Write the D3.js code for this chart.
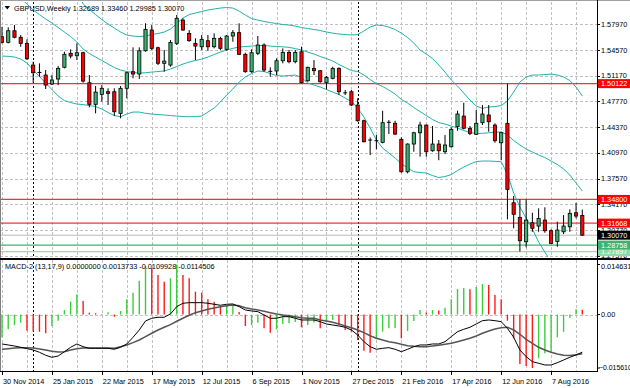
<!DOCTYPE html>
<html>
<head>
<meta charset="utf-8">
<script src="https://cdn.jsdelivr.net/npm/d3@7"></script>
<style>
  body { margin: 0; background: #fff; }
  svg text { font-family: "Liberation Sans", Arial, sans-serif; font-size: 7.3px; }
</style>
</head>
<body>
<svg id="chart" width="630" height="388"></svg>
<script>
// weekly GBPUSD bars, first week 30 Nov 2014
const firstWeek = "2014-11-30";
const open = [
  1.5632, 1.5558, 1.5712, 1.5625, 1.5545, 1.5258, 1.5160, 1.5126, 1.5007, 1.5073,
  1.5228, 1.5413, 1.5381, 1.5421, 1.5024, 1.4738, 1.4870, 1.4905, 1.4905, 1.4619,
  1.4950, 1.5170, 1.5139, 1.5447, 1.5721, 1.5487, 1.5281, 1.5258, 1.5545, 1.5853,
  1.5677, 1.5545, 1.5500, 1.5580, 1.5500, 1.5611, 1.5466, 1.5642, 1.5686, 1.5400,
  1.5170, 1.5413, 1.5523, 1.5170, 1.5179, 1.5315, 1.5426, 1.5302, 1.5434, 1.5050,
  1.5214, 1.5183, 1.5024, 1.5082, 1.5214, 1.4897, 1.4905, 1.4729, 1.4521, 1.4262,
  1.4262, 1.4235, 1.4495, 1.4487, 1.4275, 1.3846, 1.4213, 1.4362, 1.4464, 1.4124,
  1.4213, 1.4111, 1.4177, 1.4442, 1.4583, 1.4421, 1.4341, 1.4495, 1.4597, 1.4464,
  1.4230, 1.4487, 1.3436, 1.3243, 1.2920, 1.3172, 1.3128, 1.3207, 1.3066, 1.2925,
  1.3052, 1.3118, 1.3304, 1.32689
];
const high = [
  1.5765, 1.5757, 1.5787, 1.5655, 1.5598, 1.5302, 1.5280, 1.5192, 1.5126, 1.5245,
  1.5434, 1.5466, 1.5545, 1.5434, 1.5126, 1.4980, 1.4993, 1.4950, 1.4950, 1.4980,
  1.5170, 1.5492, 1.5492, 1.5810, 1.5787, 1.5500, 1.5457, 1.5589, 1.5920, 1.5876,
  1.5721, 1.5611, 1.5655, 1.5655, 1.5677, 1.5632, 1.5655, 1.5721, 1.5810, 1.5421,
  1.5466, 1.5642, 1.5545, 1.5228, 1.5347, 1.5479, 1.5457, 1.5457, 1.5500, 1.5236,
  1.5324, 1.5192, 1.5113, 1.5236, 1.5228, 1.4927, 1.4927, 1.4817, 1.4535, 1.4300,
  1.4332, 1.4653, 1.4530, 1.4521, 1.4301, 1.4222, 1.4375, 1.4508, 1.4470, 1.4451,
  1.4266, 1.4332, 1.4434, 1.4653, 1.4759, 1.4451, 1.4663, 1.4729, 1.4729, 1.4487,
  1.4375, 1.50122, 1.3525, 1.3480, 1.3480, 1.3304, 1.3362, 1.3376, 1.3084, 1.3185,
  1.3273, 1.3349, 1.3436, 1.33460
];
const low = [
  1.5545, 1.5545, 1.5611, 1.5500, 1.5324, 1.5024, 1.5103, 1.4941, 1.4993, 1.4993,
  1.5214, 1.5347, 1.5324, 1.5024, 1.4698, 1.4619, 1.4773, 1.4729, 1.4583, 1.4553,
  1.4817, 1.5082, 1.5073, 1.5434, 1.5457, 1.5258, 1.5170, 1.5236, 1.5523, 1.5712,
  1.5566, 1.5324, 1.5457, 1.5447, 1.5479, 1.5457, 1.5447, 1.5566, 1.5390, 1.5156,
  1.5156, 1.5390, 1.5170, 1.5103, 1.5126, 1.5281, 1.5281, 1.5281, 1.5016, 1.5037,
  1.5126, 1.5024, 1.4937, 1.5069, 1.4861, 1.4861, 1.4716, 1.4508, 1.4236, 1.4067,
  1.4143, 1.4222, 1.4345, 1.4332, 1.3833, 1.3825, 1.4111, 1.4045, 1.4045, 1.4111,
  1.3999, 1.4081, 1.4169, 1.4389, 1.4407, 1.4332, 1.4332, 1.4464, 1.4376, 1.4230,
  1.3999, 1.3216, 1.3098, 1.2790, 1.2846, 1.3052, 1.3052, 1.3039, 1.2890, 1.2854,
  1.3022, 1.3052, 1.3230, 1.29985
];
const close = [
  1.5558, 1.5712, 1.5625, 1.5545, 1.5341, 1.5156, 1.5160, 1.4993, 1.5060, 1.5214,
  1.5400, 1.5377, 1.5421, 1.5046, 1.4738, 1.4900, 1.4950, 1.4884, 1.4640, 1.4950,
  1.5156, 1.5139, 1.5447, 1.5730, 1.5479, 1.5281, 1.5310, 1.5558, 1.5876, 1.5721,
  1.5580, 1.5509, 1.5598, 1.5500, 1.5611, 1.5479, 1.5642, 1.5686, 1.5400, 1.5170,
  1.5421, 1.5523, 1.5192, 1.5175, 1.5315, 1.5426, 1.5302, 1.5426, 1.5024, 1.5228,
  1.5183, 1.5037, 1.5095, 1.5214, 1.4905, 1.4890, 1.4729, 1.4521, 1.4243, 1.4266,
  1.4257, 1.4495, 1.4500, 1.4345, 1.3846, 1.4213, 1.4362, 1.4464, 1.4111, 1.4213,
  1.4124, 1.4200, 1.4407, 1.4610, 1.4421, 1.4354, 1.4487, 1.4610, 1.4508, 1.4257,
  1.4362, 1.3613, 1.3283, 1.2934, 1.3207, 1.3098, 1.3229, 1.3066, 1.2899, 1.3075,
  1.3128, 1.3296, 1.3260, 1.30070
];

// Bollinger bands (20, 2)
const bbUpper = [
  1.7309, 1.7193, 1.7084, 1.6951, 1.6845, 1.6780, 1.6746, 1.6714, 1.6694, 1.6660,
  1.6602, 1.6450, 1.6250, 1.6065, 1.5992, 1.5926, 1.5860, 1.5800, 1.5748, 1.5695,
  1.5655, 1.5642, 1.5635, 1.5642, 1.5662, 1.5675, 1.5695, 1.5734, 1.5807, 1.5880,
  1.5926, 1.5946, 1.5966, 1.5986, 1.5999, 1.6012, 1.6019, 1.6012, 1.5972, 1.5920,
  1.5873, 1.5853, 1.5834, 1.5820, 1.5807, 1.5794, 1.5787, 1.5774, 1.5754, 1.5741,
  1.5728, 1.5715, 1.5695, 1.5681, 1.5668, 1.5662, 1.5655, 1.5662, 1.5708, 1.5761,
  1.5787, 1.5781, 1.5761, 1.5728, 1.5681, 1.5622, 1.5549, 1.5457, 1.5404, 1.5344,
  1.5258, 1.5165, 1.5060, 1.4980, 1.4888, 1.4795, 1.4716, 1.4685, 1.4702, 1.4709,
  1.4722, 1.4782, 1.4901, 1.5033, 1.5099, 1.5126, 1.5126, 1.5132, 1.5139, 1.5126,
  1.5099, 1.5053, 1.4967, 1.4848
];
const bbMiddle = [
  1.6343, 1.6283, 1.6224, 1.6144, 1.6065, 1.5986, 1.5926, 1.5867, 1.5814, 1.5754,
  1.5695, 1.5635, 1.5562, 1.5470, 1.5410, 1.5364, 1.5318, 1.5271, 1.5225, 1.5192,
  1.5172, 1.5159, 1.5152, 1.5156, 1.5165, 1.5172, 1.5179, 1.5205, 1.5238, 1.5271,
  1.5298, 1.5318, 1.5337, 1.5364, 1.5397, 1.5430, 1.5457, 1.5479, 1.5496, 1.5503,
  1.5509, 1.5516, 1.5516, 1.5509, 1.5503, 1.5499, 1.5492, 1.5476, 1.5457, 1.5430,
  1.5404, 1.5371, 1.5344, 1.5311, 1.5265, 1.5225, 1.5185, 1.5172, 1.5126, 1.5066,
  1.5013, 1.4974, 1.4927, 1.4874, 1.4802, 1.4755, 1.4696, 1.4643, 1.4590, 1.4537,
  1.4497, 1.4477, 1.4451, 1.4425, 1.4392, 1.4365, 1.4352, 1.4354, 1.4362, 1.4368,
  1.4374, 1.4332, 1.4259, 1.4200, 1.4147, 1.4107, 1.4067, 1.4034, 1.3988, 1.3942,
  1.3882, 1.3803, 1.3697, 1.3591
];
const bbLower = [
  1.5377, 1.5373, 1.5364, 1.5337, 1.5285, 1.5192, 1.5106, 1.5020, 1.4934, 1.4848,
  1.4788, 1.4762, 1.4742, 1.4735, 1.4722, 1.4709, 1.4676, 1.4630, 1.4590, 1.4574,
  1.4610, 1.4636, 1.4636, 1.4619, 1.4610, 1.4603, 1.4597, 1.4590, 1.4583, 1.4577,
  1.4574, 1.4577, 1.4583, 1.4636, 1.4689, 1.4769, 1.4861, 1.4941, 1.5033, 1.5099,
  1.5146, 1.5179, 1.5172, 1.5146, 1.5119, 1.5113, 1.5119, 1.5126, 1.5093, 1.5020,
  1.4993, 1.4967, 1.4934, 1.4901, 1.4868, 1.4821, 1.4775, 1.4689, 1.4570, 1.4425,
  1.4266, 1.4160, 1.4094, 1.4028, 1.3955, 1.3895, 1.3846, 1.3836, 1.3829, 1.3796,
  1.3770, 1.3783, 1.3809, 1.3862, 1.3909, 1.3948, 1.3981, 1.3988, 1.3988, 1.3984,
  1.3979, 1.3816, 1.3565, 1.3379, 1.3234, 1.3088, 1.2916, 1.2784, 1.2652, 1.2519,
  1.2414, 1.2321, 1.2242, 1.2176
];

// MACD-2 (13,17,9)
const macdMain = [
  -0.00859, -0.00888, -0.00918, -0.00956, -0.00996, -0.01034, -0.01102, -0.01189, -0.01248, -0.01210,
  -0.01084, -0.00956, -0.00859, -0.00938, -0.00985, -0.00985, -0.00985, -0.00985, -0.01014, -0.00956,
  -0.00859, -0.00663, -0.00450, -0.00187, -0.00108, -0.00079, -0.00079, 0.00018, 0.00231, 0.00330,
  0.00348, 0.00348, 0.00348, 0.00330, 0.00301, 0.00272, 0.00301, 0.00310, 0.00231, 0.00134,
  0.00105, 0.00085, -0.00012, -0.00108, -0.00108, -0.00061, -0.00061, -0.00108, -0.00158, -0.00158,
  -0.00158, -0.00207, -0.00275, -0.00304, -0.00333, -0.00371, -0.00450, -0.00596, -0.00792, -0.00938,
  -0.01014, -0.00985, -0.00967, -0.01014, -0.01084, -0.01014, -0.00938, -0.00888, -0.00888, -0.00859,
  -0.00859, -0.00792, -0.00646, -0.00500, -0.00430, -0.00371, -0.00275, -0.00178, -0.00158, -0.00178,
  -0.00207, -0.00400, -0.00663, -0.01034, -0.01230, -0.01376, -0.01423, -0.01473, -0.01473, -0.01406,
  -0.01327, -0.01248, -0.01180, -0.0109928
];
const macdSignal = [
  -0.01014, -0.00996, -0.00976, -0.00967, -0.00967, -0.00976, -0.01005, -0.01034, -0.01072, -0.01093,
  -0.01084, -0.01034, -0.00996, -0.00976, -0.00976, -0.00976, -0.00976, -0.00976, -0.00985, -0.00938,
  -0.00888, -0.00821, -0.00742, -0.00646, -0.00546, -0.00450, -0.00371, -0.00295, -0.00196, -0.00108,
  -0.00020, 0.00056, 0.00105, 0.00155, 0.00193, 0.00231, 0.00260, 0.00281, 0.00260, 0.00202,
  0.00164, 0.00134, 0.00096, 0.00056, 0.00018, -0.00012, -0.00032, -0.00061, -0.00091, -0.00108,
  -0.00108, -0.00158, -0.00187, -0.00225, -0.00275, -0.00333, -0.00383, -0.00450, -0.00529, -0.00617,
  -0.00693, -0.00742, -0.00792, -0.00821, -0.00868, -0.00909, -0.00926, -0.00938, -0.00938, -0.00918,
  -0.00897, -0.00868, -0.00839, -0.00792, -0.00742, -0.00693, -0.00625, -0.00546, -0.00479, -0.00421,
  -0.00383, -0.00371, -0.00450, -0.00576, -0.00722, -0.00839, -0.00956, -0.01034, -0.01102, -0.01151,
  -0.01189, -0.01195, -0.01175, -0.0114506
];
const macdHist = [
  -0.00663, -0.00430, -0.00304, -0.00237, -0.00470, -0.00485, -0.00503, -0.00546, -0.00333, -0.00178,
  0.00134, 0.00377, 0.00593, 0.00397, 0.00056, 0.00041, 0.00018, 0.00067, -0.00061, 0.00105,
  0.00447, 0.00640, 0.00991, 0.01420, 0.01362, 0.01157, 0.00961, 0.01061, 0.014631, 0.01157,
  0.01061, 0.00669, 0.00640, 0.00447, 0.00377, 0.00237, 0.00251, 0.00266, 0.00076, -0.00333,
  -0.00304, -0.00237, -0.00400, -0.00529, -0.00430, -0.00275, -0.00254, -0.00216, -0.00371, -0.00304,
  -0.00231, -0.00400, -0.00178, -0.00158, -0.00304, -0.00450, -0.00500, -0.00742, -0.01055, -0.01113,
  -0.00722, -0.00500, -0.00400, -0.00392, -0.00693, -0.00479, -0.00187, 0.00134, 0.00056, 0.00134,
  0.00120, 0.00202, 0.00447, 0.00748, 0.00777, 0.00739, 0.00806, 0.00894, 0.00865, 0.00573,
  0.00447, -0.00178, -0.00693, -0.01443, -0.01502, -0.01561, -0.01277, -0.01131, -0.01084, -0.00663,
  -0.00500, -0.00091, 0.00155, 0.0013733
];

// axis ticks and horizontal levels
const priceTicks = [1.57970, 1.54570, 1.51170, 1.47770, 1.44370, 1.40970, 1.37570, 1.34170, 1.30770, 1.27370];
const dateTicks = ["2014-11-30", "2015-01-25", "2015-03-22", "2015-05-17", "2015-07-12", "2015-09-06",
                   "2015-11-01", "2015-12-27", "2016-02-21", "2016-04-17", "2016-06-12", "2016-08-07"];
const yearStarts = ["2015-01-04", "2016-01-03"];
const resistance = [1.50122, 1.34800, 1.31668];
const support = [1.28758, 1.27897];
const bid = 1.30070;
const macdTicks = [0.014631, 0, -0.015610];

const svg = d3.select("#chart");
const W = 630, plotRight = 597;
const mainTop = 2, mainBottom = 257, subTop = 260, subBottom = 371;

const parse = d3.utcParse("%Y-%m-%d");
const weeks = close.map((d, i) => d3.utcDay.offset(parse(firstWeek), 7 * i));

var x = d3.scaleUtc().domain(d3.extent(weeks)).range([2, 582.3]);
var y = d3.scaleLinear().domain([1.2737, 1.5797]).range([255.6, 24.3]);
var ym = d3.scaleLinear().domain([-0.015610, 0.014631]).range([368, 264.5]);

svg.append("rect").attr("width", W).attr("height", 388).attr("fill", "#fff");

var defs = svg.append("defs");
defs.append("clipPath").attr("id", "clipMain").append("rect")
  .attr("x", 0).attr("y", mainTop).attr("width", plotRight).attr("height", mainBottom - mainTop);
defs.append("clipPath").attr("id", "clipSub").append("rect")
  .attr("x", 0).attr("y", subTop).attr("width", plotRight).attr("height", subBottom - subTop);

//grid
var grid = svg.append("g").attr("stroke", "#c0c0c0").attr("stroke-dasharray", "3,2")
  .attr("shape-rendering", "crispEdges");
grid.selectAll(".hg").data(priceTicks).enter().append("line")
  .attr("x1", 0).attr("x2", plotRight)
  .attr("y1", d => Math.round(y(d)) + 0.5).attr("y2", d => Math.round(y(d)) + 0.5);
var gridWeeks = weeks.filter((d, i) => i % 4 === 0);
[[mainTop, mainBottom], [subTop, subBottom]].forEach(function (r) {
  grid.selectAll(null).data(gridWeeks).enter().append("line")
    .attr("x1", d => Math.round(x(d)) + 0.5).attr("x2", d => Math.round(x(d)) + 0.5)
    .attr("y1", r[0]).attr("y2", r[1]);
});
grid.append("line").attr("x1", 0).attr("x2", plotRight)
  .attr("y1", Math.round(ym(0)) + 0.5).attr("y2", Math.round(ym(0)) + 0.5);

// period separators
svg.append("g").selectAll("line").data(yearStarts.map(parse)).enter().append("line")
  .attr("x1", d => Math.round(x(d)) + 0.5).attr("x2", d => Math.round(x(d)) + 0.5)
  .attr("y1", mainTop).attr("y2", subBottom)
  .attr("stroke", "#000").attr("stroke-dasharray", "2,2").attr("shape-rendering", "crispEdges");

// horizontal levels
var levels = svg.append("g");
levels.selectAll(".res").data(resistance).enter().append("line")
  .attr("x1", 0).attr("x2", plotRight).attr("y1", d => y(d)).attr("y2", d => y(d))
  .attr("stroke", "#ff3030").attr("stroke-width", 1.3);
levels.append("line").attr("x1", 0).attr("x2", plotRight).attr("y1", y(bid)).attr("y2", y(bid))
  .attr("stroke", "#b8b8b8").attr("stroke-width", 1);
levels.selectAll(".sup").data(support).enter().append("line")
  .attr("x1", 0).attr("x2", plotRight).attr("y1", d => y(d)).attr("y2", d => y(d))
  .attr("stroke", (d, i) => i === 0 ? "#3cb371" : "#94dcb0").attr("stroke-width", 1.2);

// bollinger bands
var plot = svg.append("g").attr("clip-path", "url(#clipMain)");
var bandLine = d3.line().x((d, i) => x(weeks[i])).y(d => y(d));
[bbUpper, bbMiddle, bbLower].forEach(function (band) {
  plot.append("path").datum(band).attr("d", bandLine)
    .attr("fill", "none").attr("stroke", "#20b2aa").attr("stroke-width", 1);
});

// candles
var candles = plot.selectAll(".candle").data(close).enter().append("g");
candles.append("line")
  .attr("x1", (d, i) => x(weeks[i])).attr("x2", (d, i) => x(weeks[i]))
  .attr("y1", (d, i) => y(high[i])).attr("y2", (d, i) => y(low[i]))
  .attr("stroke", "#000").attr("stroke-width", 1);
candles.each(function (d, i) {
  var g = d3.select(this);
  var top = y(Math.max(open[i], close[i]));
  var h = Math.abs(y(open[i]) - y(close[i]));
  if (h < 1.2) {
    g.append("line").attr("x1", x(weeks[i]) - 2).attr("x2", x(weeks[i]) + 2)
      .attr("y1", y(close[i])).attr("y2", y(close[i])).attr("stroke", "#000").attr("stroke-width", 1);
  } else {
    g.append("rect").attr("x", x(weeks[i]) - 1.6).attr("width", 3.2)
      .attr("y", top).attr("height", h)
      .attr("fill", close[i] > open[i] ? "#3cb371" : "#ff0000")
      .attr("stroke", "#000").attr("stroke-width", 0.8);
  }
});

// MACD
var sub = svg.append("g").attr("clip-path", "url(#clipSub)");
sub.selectAll(".hist").data(macdHist).enter().append("line")
  .attr("x1", (d, i) => x(weeks[i])).attr("x2", (d, i) => x(weeks[i]))
  .attr("y1", ym(0)).attr("y2", d => ym(d))
  .attr("stroke", (d, i) => (i === 0 || d > macdHist[i - 1]) ? "#3ccc3c" : "#ff1a1a")
  .attr("stroke-width", 1.4);
var macdLine = d3.line().x((d, i) => x(weeks[i])).y(d => ym(d));
sub.append("path").datum(macdSignal).attr("d", macdLine)
  .attr("fill", "none").attr("stroke", "#555").attr("stroke-width", 1.5);
sub.append("path").datum(macdMain).attr("d", macdLine)
  .attr("fill", "none").attr("stroke", "#000").attr("stroke-width", 1);

// frames
var frame = svg.append("g").attr("shape-rendering", "crispEdges");
frame.append("line").attr("x1", 0.5).attr("x2", 0.5).attr("y1", 0).attr("y2", subBottom).attr("stroke", "#808080");
frame.append("line").attr("x1", 0).attr("x2", W).attr("y1", 0.5).attr("y2", 0.5).attr("stroke", "#a0a0a0");
frame.append("line").attr("x1", 0).attr("x2", W).attr("y1", 259).attr("y2", 259).attr("stroke", "#000").attr("stroke-width", 2);
frame.append("line").attr("x1", 0).attr("x2", plotRight).attr("y1", subBottom + 0.5).attr("y2", subBottom + 0.5).attr("stroke", "#000");
frame.append("line").attr("x1", plotRight + 0.5).attr("x2", plotRight + 0.5).attr("y1", 0).attr("y2", subBottom + 1).attr("stroke", "#000");

// price axis
var axis = svg.append("g");
axis.selectAll(".pt").data(priceTicks).enter().append("line")
  .attr("x1", plotRight).attr("x2", plotRight + 3)
  .attr("y1", d => Math.round(y(d)) + 0.5).attr("y2", d => Math.round(y(d)) + 0.5)
  .attr("stroke", "#000").attr("shape-rendering", "crispEdges");
axis.selectAll(".pl").data(priceTicks).enter().append("text")
  .attr("x", 601).attr("y", d => y(d) + 2.6).text(d => d3.format(".5f")(d));

function levelTag(price, fill, textFill) {
  axis.append("rect").attr("x", plotRight + 1).attr("y", y(price) - 4.5)
    .attr("width", W - plotRight - 1).attr("height", 9).attr("fill", fill);
  axis.append("text").attr("x", 601).attr("y", y(price) + 2.6).attr("fill", textFill)
    .text(d3.format(".5f")(price));
}
resistance.forEach(p => levelTag(p, "#ff0000", "#fff"));
levelTag(support[1], "#8fd8a8", "#fff");
levelTag(support[0], "#3cb371", "#fff");
levelTag(bid, "#000", "#fff");

// macd axis
axis.selectAll(".mt").data(macdTicks).enter().append("line")
  .attr("x1", plotRight).attr("x2", plotRight + 3)
  .attr("y1", d => ym(d)).attr("y2", d => ym(d)).attr("stroke", "#000");
axis.selectAll(".ml").data(macdTicks).enter().append("text")
  .attr("x", (d, i) => i === 2 ? 599 : 601)
  .attr("y", (d, i) => i === 0 ? ym(d) + 4.5 : (i === 2 ? ym(d) + 1.5 : ym(d) + 2.6))
  .style("font-size", (d, i) => i === 2 ? "6.9px" : null)
  .text(d => d === 0 ? "0.00" : d3.format(".6f")(d));

// time axis
var fmt = d3.utcFormat("%-d %b %Y");
var dates = dateTicks.map(parse);
svg.append("g").selectAll("line").data(dates).enter().append("line")
  .attr("x1", d => Math.round(x(d)) + 0.5).attr("x2", d => Math.round(x(d)) + 0.5)
  .attr("y1", subBottom).attr("y2", subBottom + 4)
  .attr("stroke", "#000").attr("shape-rendering", "crispEdges");
svg.append("g").selectAll("text").data(dates).enter().append("text")
  .attr("x", d => x(d) + 1).attr("y", 384).text(d => fmt(d));

// titles
svg.append("path").attr("d", "M4.5,6 L10,6 L7.25,9.5 Z").attr("fill", "#000");
svg.append("text").attr("x", 14).attr("y", 10.5)
  .text("GBPUSD,Weekly  1.32689 1.33460 1.29985 1.30070");
svg.append("text").attr("x", 5).attr("y", 268.5)
  .text("MACD-2 (13,17,9) 0.0000000 0.0013733 -0.0109928 -0.0114506");
</script>
</body>
</html>
